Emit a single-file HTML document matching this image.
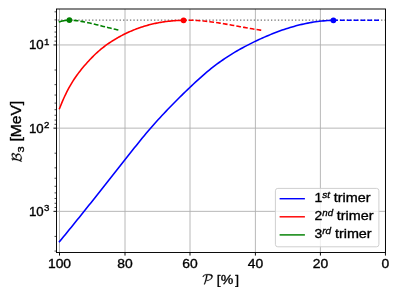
<!DOCTYPE html>
<html><head><meta charset="utf-8"><title>Trimer binding energies</title>
<style>html,body{margin:0;padding:0;background:#fff;}svg{display:block;}text{font-family:"Liberation Sans",sans-serif;fill:#000;stroke:#000;stroke-width:0.33px;}.it{font-family:"Liberation Sans",sans-serif;font-style:italic;}</style></head><body>
<svg width="399" height="299" viewBox="0 0 399 299">
<rect x="0" y="0" width="399" height="299" fill="#ffffff"/>
<defs><filter id="gs" x="0" y="0" width="399" height="299" filterUnits="userSpaceOnUse"><feOffset dx="0" dy="0"/></filter></defs>
<g filter="url(#gs)">
<g stroke="#b0b0b0" stroke-width="0.9" fill="none">
<line x1="59.50" y1="9.0" x2="59.50" y2="252.5"/>
<line x1="125.00" y1="9.0" x2="125.00" y2="252.5"/>
<line x1="190.00" y1="9.0" x2="190.00" y2="252.5"/>
<line x1="255.40" y1="9.0" x2="255.40" y2="252.5"/>
<line x1="320.40" y1="9.0" x2="320.40" y2="252.5"/>
<line x1="385.45" y1="9.0" x2="385.45" y2="252.5"/>
<line x1="56.5" y1="44.95" x2="385.5" y2="44.95"/>
<line x1="56.5" y1="128.15" x2="385.5" y2="128.15"/>
<line x1="56.5" y1="211.35" x2="385.5" y2="211.35"/>
</g>
<clipPath id="ax"><rect x="56.5" y="9.0" width="329.0" height="243.5"/></clipPath>
<g clip-path="url(#ax)" fill="none" stroke-linecap="butt" stroke-linejoin="round">
<line x1="56.5" y1="20.1" x2="385.5" y2="20.1" stroke="#727272" stroke-width="1.45" stroke-dasharray="1.35,2.09" stroke-dashoffset="2.25"/>
<path d="M59.50,241.60 L61.47,239.20 L63.44,236.80 L65.41,234.40 L67.38,231.98 L69.35,229.56 L71.32,227.14 L73.29,224.71 L75.26,222.28 L77.23,219.84 L79.21,217.40 L81.18,214.95 L83.15,212.49 L85.12,210.04 L87.09,207.58 L89.06,205.11 L91.03,202.65 L93.00,200.18 L94.97,197.70 L96.94,195.22 L98.91,192.74 L100.88,190.26 L102.85,187.78 L104.82,185.29 L106.79,182.80 L108.76,180.31 L110.73,177.81 L112.70,175.32 L114.67,172.82 L116.64,170.32 L118.62,167.82 L120.59,165.32 L122.56,162.82 L124.53,160.32 L126.50,157.82 L128.47,155.32 L130.44,152.83 L132.41,150.34 L134.38,147.86 L136.35,145.40 L138.32,142.95 L140.29,140.51 L142.26,138.10 L144.23,135.72 L146.20,133.35 L148.17,131.02 L150.14,128.72 L152.11,126.45 L154.08,124.22 L156.05,122.01 L158.03,119.84 L160.00,117.69 L161.97,115.56 L163.94,113.46 L165.91,111.38 L167.88,109.32 L169.85,107.28 L171.82,105.26 L173.79,103.25 L175.76,101.26 L177.73,99.28 L179.70,97.31 L181.67,95.37 L183.64,93.43 L185.61,91.51 L187.58,89.61 L189.55,87.72 L191.52,85.85 L193.49,84.00 L195.46,82.16 L197.44,80.34 L199.41,78.55 L201.38,76.79 L203.35,75.06 L205.32,73.36 L207.29,71.69 L209.26,70.07 L211.23,68.48 L213.20,66.93 L215.17,65.41 L217.14,63.94 L219.11,62.50 L221.08,61.10 L223.05,59.73 L225.02,58.39 L226.99,57.09 L228.96,55.82 L230.93,54.57 L232.90,53.36 L234.87,52.17 L236.85,51.02 L238.82,49.88 L240.79,48.78 L242.76,47.69 L244.73,46.63 L246.70,45.59 L248.67,44.58 L250.64,43.58 L252.61,42.60 L254.58,41.65 L256.55,40.71 L258.52,39.79 L260.49,38.88 L262.46,38.00 L264.43,37.13 L266.40,36.28 L268.37,35.45 L270.34,34.63 L272.31,33.83 L274.28,33.05 L276.26,32.28 L278.23,31.54 L280.20,30.82 L282.17,30.11 L284.14,29.44 L286.11,28.78 L288.08,28.15 L290.05,27.54 L292.02,26.95 L293.99,26.39 L295.96,25.85 L297.93,25.33 L299.90,24.84 L301.87,24.37 L303.84,23.93 L305.81,23.51 L307.78,23.11 L309.75,22.74 L311.72,22.40 L313.69,22.08 L315.67,21.78 L317.64,21.51 L319.61,21.27 L321.58,21.05 L323.55,20.86 L325.52,20.70 L327.49,20.56 L329.46,20.44 L331.43,20.36 L333.40,20.30" stroke="#0000ff" stroke-width="1.58" stroke-linecap="square"/>
<path d="M59.50,108.60 L60.54,105.93 L61.59,103.37 L62.63,100.91 L63.67,98.54 L64.71,96.26 L65.76,94.07 L66.80,91.97 L67.84,89.94 L68.89,87.99 L69.93,86.12 L70.97,84.32 L72.01,82.58 L73.06,80.90 L74.10,79.29 L75.14,77.73 L76.19,76.22 L77.23,74.76 L78.27,73.35 L79.31,71.98 L80.36,70.64 L81.40,69.34 L82.44,68.07 L83.49,66.83 L84.53,65.61 L85.57,64.41 L86.61,63.23 L87.66,62.07 L88.70,60.93 L89.74,59.81 L90.79,58.71 L91.83,57.63 L92.87,56.58 L93.91,55.54 L94.96,54.53 L96.00,53.54 L97.04,52.58 L98.09,51.64 L99.13,50.73 L100.17,49.83 L101.21,48.97 L102.26,48.12 L103.30,47.30 L104.34,46.50 L105.39,45.72 L106.43,44.95 L107.47,44.21 L108.51,43.48 L109.56,42.78 L110.60,42.08 L111.64,41.41 L112.69,40.75 L113.73,40.10 L114.77,39.46 L115.81,38.84 L116.86,38.23 L117.90,37.63 L118.94,37.05 L119.99,36.47 L121.03,35.91 L122.07,35.36 L123.11,34.82 L124.16,34.29 L125.20,33.78 L126.24,33.27 L127.29,32.78 L128.33,32.29 L129.37,31.82 L130.41,31.36 L131.46,30.91 L132.50,30.47 L133.54,30.04 L134.59,29.63 L135.63,29.22 L136.67,28.82 L137.71,28.44 L138.76,28.06 L139.80,27.69 L140.84,27.34 L141.89,26.99 L142.93,26.65 L143.97,26.33 L145.01,26.01 L146.06,25.70 L147.10,25.41 L148.14,25.12 L149.19,24.84 L150.23,24.57 L151.27,24.31 L152.31,24.06 L153.36,23.82 L154.40,23.58 L155.44,23.36 L156.49,23.14 L157.53,22.93 L158.57,22.74 L159.61,22.55 L160.66,22.36 L161.70,22.19 L162.74,22.02 L163.79,21.87 L164.83,21.72 L165.87,21.58 L166.91,21.44 L167.96,21.32 L169.00,21.20 L170.04,21.09 L171.09,20.99 L172.13,20.89 L173.17,20.80 L174.21,20.72 L175.26,20.65 L176.30,20.58 L177.34,20.52 L178.39,20.47 L179.43,20.42 L180.47,20.38 L181.51,20.35 L182.56,20.32 L183.60,20.30" stroke="#ff0000" stroke-width="1.58" stroke-linecap="square"/>
<path d="M59.50,21.80 L60.02,21.64 L60.54,21.50 L61.06,21.36 L61.58,21.22 L62.11,21.10 L62.63,20.98 L63.15,20.87 L63.67,20.76 L64.19,20.67 L64.71,20.58 L65.23,20.49 L65.75,20.42 L66.27,20.35 L66.79,20.29 L67.32,20.24 L67.84,20.19 L68.36,20.15 L68.88,20.12 L69.40,20.10" stroke="#008000" stroke-width="1.58" stroke-linecap="square"/>
<path d="M333.50,20.30 L379.10,20.30" stroke="#0000ff" stroke-width="1.58" stroke-dasharray="4.78,2.06" stroke-dashoffset="0.34"/>
<path d="M183.50,20.30 L185.52,20.25 L187.54,20.23 L189.56,20.23 L191.58,20.27 L193.60,20.33 L195.62,20.42 L197.64,20.54 L199.66,20.67 L201.68,20.84 L203.71,21.02 L205.73,21.22 L207.75,21.44 L209.77,21.68 L211.79,21.94 L213.81,22.21 L215.83,22.50 L217.85,22.80 L219.87,23.11 L221.89,23.44 L223.91,23.77 L225.93,24.11 L227.95,24.46 L229.97,24.82 L231.99,25.18 L234.01,25.54 L236.03,25.91 L238.05,26.28 L240.07,26.66 L242.09,27.03 L244.12,27.39 L246.14,27.76 L248.16,28.12 L250.18,28.48 L252.20,28.83 L254.22,29.17 L256.24,29.51 L258.26,29.83 L260.28,30.15 L262.30,30.45" stroke="#ff0000" stroke-width="1.58" stroke-dasharray="4.78,2.06" stroke-dashoffset="1.49"/>
<path d="M69.40,20.10 L71.10,20.18 L72.79,20.29 L74.49,20.44 L76.19,20.63 L77.88,20.84 L79.58,21.09 L81.28,21.36 L82.97,21.65 L84.67,21.97 L86.37,22.31 L88.06,22.66 L89.76,23.04 L91.46,23.43 L93.15,23.83 L94.85,24.24 L96.54,24.66 L98.24,25.09 L99.94,25.52 L101.63,25.95 L103.33,26.39 L105.03,26.82 L106.72,27.25 L108.42,27.68 L110.12,28.09 L111.81,28.50 L113.51,28.90 L115.21,29.28 L116.90,29.65 L118.60,30.00" stroke="#008000" stroke-width="1.58" stroke-dasharray="4.78,2.06" stroke-dashoffset="2.64"/>
<circle cx="333.4" cy="20.3" r="2.9" fill="#0000ff" stroke="none"/>
<circle cx="183.6" cy="20.3" r="2.9" fill="#ff0000" stroke="none"/>
<circle cx="69.4" cy="20.1" r="2.9" fill="#008000" stroke="none"/>
</g>
<g stroke="#000" stroke-width="0.95" fill="none">
<line x1="59.50" y1="252.5" x2="59.50" y2="255.60"/>
<line x1="125.00" y1="252.5" x2="125.00" y2="255.60"/>
<line x1="190.00" y1="252.5" x2="190.00" y2="255.60"/>
<line x1="255.40" y1="252.5" x2="255.40" y2="255.60"/>
<line x1="320.40" y1="252.5" x2="320.40" y2="255.60"/>
<line x1="385.45" y1="252.5" x2="385.45" y2="255.60"/>
<line x1="53.47" y1="44.95" x2="56.5" y2="44.95"/>
<line x1="53.47" y1="128.15" x2="56.5" y2="128.15"/>
<line x1="53.47" y1="211.35" x2="56.5" y2="211.35"/>
<line x1="54.50" y1="11.84" x2="56.5" y2="11.84" stroke-width="0.7"/>
<line x1="54.50" y1="19.90" x2="56.5" y2="19.90" stroke-width="0.7"/>
<line x1="54.50" y1="26.49" x2="56.5" y2="26.49" stroke-width="0.7"/>
<line x1="54.50" y1="32.06" x2="56.5" y2="32.06" stroke-width="0.7"/>
<line x1="54.50" y1="36.89" x2="56.5" y2="36.89" stroke-width="0.7"/>
<line x1="54.50" y1="41.14" x2="56.5" y2="41.14" stroke-width="0.7"/>
<line x1="54.50" y1="70.00" x2="56.5" y2="70.00" stroke-width="0.7"/>
<line x1="54.50" y1="84.65" x2="56.5" y2="84.65" stroke-width="0.7"/>
<line x1="54.50" y1="95.04" x2="56.5" y2="95.04" stroke-width="0.7"/>
<line x1="54.50" y1="103.10" x2="56.5" y2="103.10" stroke-width="0.7"/>
<line x1="54.50" y1="109.69" x2="56.5" y2="109.69" stroke-width="0.7"/>
<line x1="54.50" y1="115.26" x2="56.5" y2="115.26" stroke-width="0.7"/>
<line x1="54.50" y1="120.09" x2="56.5" y2="120.09" stroke-width="0.7"/>
<line x1="54.50" y1="124.34" x2="56.5" y2="124.34" stroke-width="0.7"/>
<line x1="54.50" y1="153.20" x2="56.5" y2="153.20" stroke-width="0.7"/>
<line x1="54.50" y1="167.85" x2="56.5" y2="167.85" stroke-width="0.7"/>
<line x1="54.50" y1="178.24" x2="56.5" y2="178.24" stroke-width="0.7"/>
<line x1="54.50" y1="186.30" x2="56.5" y2="186.30" stroke-width="0.7"/>
<line x1="54.50" y1="192.89" x2="56.5" y2="192.89" stroke-width="0.7"/>
<line x1="54.50" y1="198.46" x2="56.5" y2="198.46" stroke-width="0.7"/>
<line x1="54.50" y1="203.29" x2="56.5" y2="203.29" stroke-width="0.7"/>
<line x1="54.50" y1="207.54" x2="56.5" y2="207.54" stroke-width="0.7"/>
<line x1="54.50" y1="236.40" x2="56.5" y2="236.40" stroke-width="0.7"/>
<line x1="54.50" y1="251.05" x2="56.5" y2="251.05" stroke-width="0.7"/>
</g>
<rect x="56.5" y="9.0" width="329.00" height="243.50" fill="none" stroke="#000" stroke-width="0.95"/>
<text x="59.50" y="268.30" font-size="12.35" text-anchor="middle" textLength="23.12" lengthAdjust="spacingAndGlyphs">100</text>
<text x="125.00" y="268.30" font-size="12.35" text-anchor="middle" textLength="15.42" lengthAdjust="spacingAndGlyphs">80</text>
<text x="190.00" y="268.30" font-size="12.35" text-anchor="middle" textLength="15.42" lengthAdjust="spacingAndGlyphs">60</text>
<text x="255.40" y="268.30" font-size="12.35" text-anchor="middle" textLength="15.42" lengthAdjust="spacingAndGlyphs">40</text>
<text x="320.40" y="268.30" font-size="12.35" text-anchor="middle" textLength="15.42" lengthAdjust="spacingAndGlyphs">20</text>
<text x="385.45" y="268.30" font-size="12.35" text-anchor="middle" textLength="7.71" lengthAdjust="spacingAndGlyphs">0</text>
<text x="43.70" y="49.45" font-size="12.35" text-anchor="end" textLength="14.72" lengthAdjust="spacingAndGlyphs">10</text>
<text x="44.10" y="44.55" font-size="8.65" text-anchor="start" textLength="5.39" lengthAdjust="spacingAndGlyphs">1</text>
<text x="43.70" y="132.65" font-size="12.35" text-anchor="end" textLength="14.72" lengthAdjust="spacingAndGlyphs">10</text>
<text x="44.10" y="127.75" font-size="8.65" text-anchor="start" textLength="5.39" lengthAdjust="spacingAndGlyphs">2</text>
<text x="43.70" y="215.85" font-size="12.35" text-anchor="end" textLength="14.72" lengthAdjust="spacingAndGlyphs">10</text>
<text x="44.10" y="210.95" font-size="8.65" text-anchor="start" textLength="5.39" lengthAdjust="spacingAndGlyphs">3</text>
<g transform="translate(202.4,283.7) scale(0.00684,-0.00684)"><path d="M221 -90Q221 -84 223 -80Q292 88 348.5 259.0Q405 430 451 606Q536 953 565 1278Q456 1278 350 1239Q295 1217 266.5 1182.5Q238 1148 219 1087Q199 1053 151.0 1023.0Q103 993 66 993H53Q39 1002 39 1014Q75 1138 186.0 1225.0Q297 1312 444.0 1355.5Q591 1399 723 1399H985Q1072 1399 1159.5 1382.5Q1247 1366 1325.0 1328.0Q1403 1290 1452.0 1226.5Q1501 1163 1501 1071Q1501 978 1456.0 890.5Q1411 803 1342.0 731.5Q1273 660 1186 600Q1057 515 915.0 467.5Q773 420 629 420H618Q614 422 609.0 426.0Q604 430 604 436Q604 470 663.5 503.5Q723 537 760 541Q861 541 959.5 568.5Q1058 596 1135 653Q1188 695 1228.5 746.5Q1269 798 1294.0 859.5Q1319 921 1319 985Q1319 1092 1240.5 1158.5Q1162 1225 1049.0 1251.5Q936 1278 831 1278H739Q720 1104 689.5 943.5Q659 783 617.5 627.0Q576 471 520.0 305.0Q464 139 401 -12Q379 -48 335.0 -74.5Q291 -101 246 -106H236Q228 -102 225.5 -100.5Q223 -99 222.0 -97.5Q221 -96 221 -90Z" fill="#000" stroke="#000" stroke-width="36"/></g>
<text y="283.6" font-size="13.6" style="stroke-width:0.36px"><tspan x="216.7">[</tspan><tspan x="220.7" textLength="12.6" lengthAdjust="spacingAndGlyphs">%</tspan><tspan x="235.2">]</tspan></text>
<g transform="translate(21.4,162.2) rotate(-90)">
<g transform="scale(0.00676,-0.00676)"><path d="M76 -45Q61 -37 61 -29Q61 -23 63 -18Q131 109 184.5 271.5Q238 434 278.0 611.5Q318 789 346.0 954.5Q374 1120 397 1294L336 1264Q305 1248 274 1245H264Q250 1252 250 1262Q250 1296 330 1341L483 1419Q526 1442 559 1444H571Q586 1439 586 1425Q565 1268 543 1135Q595 1201 657.0 1255.5Q719 1310 792.5 1353.5Q866 1397 947.0 1421.5Q1028 1446 1106 1446H1118Q1216 1446 1288.0 1389.5Q1360 1333 1360 1237Q1360 1104 1244.5 1002.0Q1129 900 971 829Q1106 805 1194.0 715.5Q1282 626 1282 494Q1282 374 1216.0 274.0Q1150 174 1042.0 102.5Q934 31 809.5 -7.0Q685 -45 573 -45H561Q480 -45 403.0 -11.5Q326 22 279 84Q274 91 274 96Q274 128 333.0 162.5Q392 197 432 201H442Q449 198 487.5 161.5Q526 125 553 111Q625 76 711 76Q821 76 908.0 112.0Q995 148 1047.5 222.0Q1100 296 1100 406Q1100 504 1048.0 574.0Q996 644 910.0 680.5Q824 717 731 717Q697 717 635 709H623Q615 713 611.5 716.0Q608 719 608 725Q608 748 651 780Q692 810 771.5 838.5Q851 867 958.5 908.5Q1066 950 1122.0 1006.0Q1178 1062 1178 1149Q1178 1203 1148.5 1243.5Q1119 1284 1070.5 1304.5Q1022 1325 971 1325Q857 1325 775.0 1251.0Q693 1177 621 1053Q551 930 497.5 781.5Q444 633 403 467Q352 261 242 49Q222 13 175.5 -14.0Q129 -41 86 -45Z" fill="#000" stroke="#000" stroke-width="36"/></g>
<text x="9.6" y="2.4" font-size="9.9" textLength="6.17" lengthAdjust="spacingAndGlyphs">3</text>
<text x="20.6" y="0" font-size="14.1" style="stroke-width:0.36px" textLength="40.75" lengthAdjust="spacingAndGlyphs">[MeV]</text>
</g>
<rect x="275.4" y="188.4" width="103.5" height="58.4" rx="2.4" ry="2.4" fill="#ffffff" fill-opacity="0.8" stroke="#cccccc" stroke-width="0.95"/>
<line x1="279.6" y1="198.70" x2="304.9" y2="198.70" stroke="#0000ff" stroke-width="1.45"/>
<text x="314.40" y="202.20" font-size="12.35" text-anchor="start" textLength="7.71" lengthAdjust="spacingAndGlyphs">1</text>
<text x="322.31" y="198.10" font-size="9.3" text-anchor="start" textLength="7.74" lengthAdjust="spacingAndGlyphs" class="it">st</text>
<text x="333.80" y="202.20" font-size="12.35" text-anchor="start" textLength="36.74" lengthAdjust="spacingAndGlyphs">trimer</text>
<line x1="279.6" y1="216.80" x2="304.9" y2="216.80" stroke="#ff0000" stroke-width="1.45"/>
<text x="314.40" y="220.30" font-size="12.35" text-anchor="start" textLength="7.71" lengthAdjust="spacingAndGlyphs">2</text>
<text x="322.31" y="216.20" font-size="9.3" text-anchor="start" textLength="10.76" lengthAdjust="spacingAndGlyphs" class="it">nd</text>
<text x="336.82" y="220.30" font-size="12.35" text-anchor="start" textLength="36.74" lengthAdjust="spacingAndGlyphs">trimer</text>
<line x1="279.6" y1="234.90" x2="304.9" y2="234.90" stroke="#008000" stroke-width="1.45"/>
<text x="314.40" y="238.40" font-size="12.35" text-anchor="start" textLength="7.71" lengthAdjust="spacingAndGlyphs">3</text>
<text x="322.31" y="234.30" font-size="9.3" text-anchor="start" textLength="8.87" lengthAdjust="spacingAndGlyphs" class="it">rd</text>
<text x="334.93" y="238.40" font-size="12.35" text-anchor="start" textLength="36.74" lengthAdjust="spacingAndGlyphs">trimer</text>
</g>
</svg></body></html>
